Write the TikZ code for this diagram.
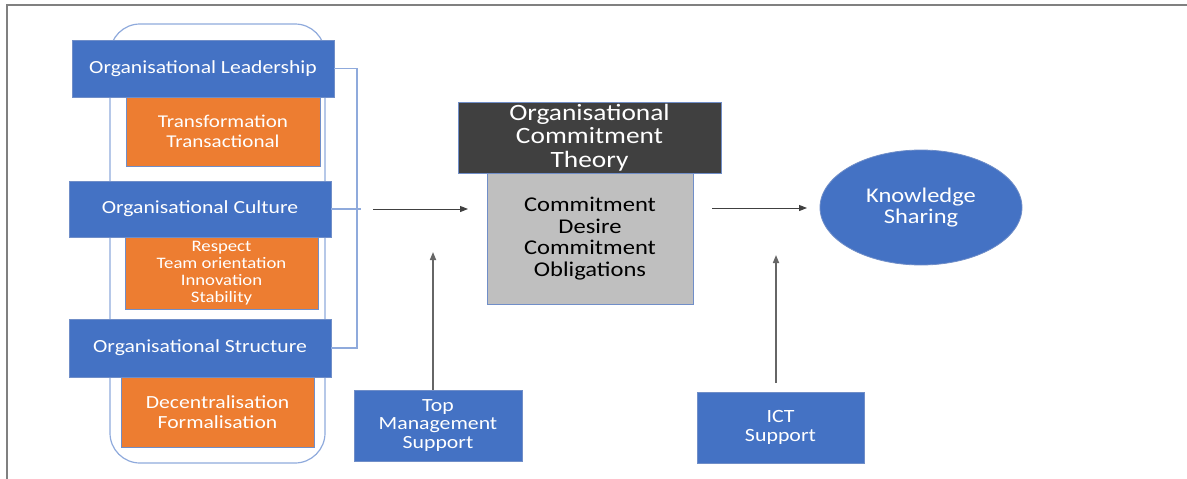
\documentclass[tikz,border=0pt]{standalone}
\usepackage{fontspec}
\setmainfont{Carlito}[FakeStretch=1.17]
\usetikzlibrary{arrows.meta,shapes.geometric}

\definecolor{ppblue}{RGB}{68,114,196}
\definecolor{pporange}{RGB}{237,125,49}
\definecolor{ppdark}{RGB}{64,64,64}
\definecolor{ppgrey}{RGB}{191,191,191}
\definecolor{boxedge}{RGB}{112,142,200}
\definecolor{ppline}{RGB}{143,170,220}
\definecolor{frameline}{RGB}{128,128,128}

\tikzset{
  blockbase/.style={inner sep=0pt, align=center, draw=boxedge, line width=0.8pt},
  blueblock/.style={blockbase, fill=ppblue, text=white, minimum width=262pt,
    font=\fontsize{18.5}{19}\selectfont},
  orangeblock/.style={blockbase, fill=pporange, text=white, minimum width=194pt,
    font=\fontsize{18}{19.5}\selectfont},
  arr/.style={-{Triangle[length=8pt,width=6pt]}, draw=ppdark, line width=1pt},
  uparr/.style={arr, draw=ppdark!80, line width=1.6pt},
}

\begin{document}
\begin{tikzpicture}[x=1pt,y=-1pt]
\useasboundingbox (0,0) rectangle (1187,479);
\draw[frameline, line width=2pt] (7,479) -- (7,5) -- (1187,5);

% left column
\draw[ppline, line width=1.2pt, rounded corners=30pt] (110,24) rectangle (325,463);
\node[orangeblock, minimum height=69pt] (leadsub) at (223,131.5) {Transformation\\Transactional};
\node[orangeblock, minimum width=193pt, minimum height=72pt, font=\fontsize{16}{16.8}\selectfont] (cultsub) at (221.5,273) {Respect\\Team orientation\\Innovation\\Stability};
\node[orangeblock, minimum width=193pt, minimum height=70pt, font=\fontsize{18.5}{19.5}\selectfont] (strucsub) at (217.5,412) {Decentralisation\\Formalisation};
\node[blueblock, minimum height=57pt] (lead) at (203,68.5) {Organisational Leadership};
\node[blueblock, minimum height=56pt] (cult) at (200,209) {Organisational Culture};
\node[blueblock, minimum height=58pt] (struc) at (200,348) {Organisational Structure};

% bracket
\coordinate (brk) at (357,209);
\draw[ppline, line width=1.2pt] (lead.east) -- (lead.east -| brk) -- (struc.east -| brk) -- (struc.east);
\draw[ppline, line width=1.2pt] (cult.east) -- ++(30,0);

% theory
\node[blockbase, fill=ppgrey, minimum width=206pt, minimum height=131pt,
  font=\fontsize{21}{21.5}\selectfont] (commit) at (590,238.5) {Commitment\\Desire\\Commitment\\Obligations};
\node[blockbase, fill=ppdark, text=white, minimum width=263pt, minimum height=71pt,
  font=\fontsize{23.4}{23.5}\selectfont] (theory) at (589.5,137.5) {Organisational\\Commitment\\Theory};

\node[blockbase, fill=ppblue, text=white, minimum width=168pt, minimum height=71pt,
  font=\fontsize{18.6}{18.5}\selectfont] (tms) at (438,425.5) {Top\\Management\\Support};
\node[blockbase, fill=ppblue, text=white, minimum width=167pt, minimum height=71pt,
  font=\fontsize{18.7}{19.5}\selectfont] (ict) at (780.5,427.5) {ICT\\Support};
\node[ellipse, draw=boxedge, line width=0.8pt, fill=ppblue, text=white, inner sep=0pt,
  minimum width=202pt, minimum height=115pt, align=center,
  font=\fontsize{20.9}{21.5}\selectfont] (ks) at (921,207.5) {Knowledge\\Sharing};

% arrows
\coordinate (inL) at (373,209);
\coordinate (inR) at (468,209);
\draw[arr] (inL) -- (inR);
\coordinate (outL) at (712,208);
\coordinate (outR) at (807,208);
\draw[arr] (outL) -- (outR);
\coordinate (tmsTop) at (433,252);
\draw[uparr] (tmsTop |- tms.north) -- (tmsTop);
\coordinate (ictBot) at (776,383);
\coordinate (ictTop) at (776,255);
\draw[uparr] (ictBot) -- (ictTop);
\end{tikzpicture}
\end{document}
